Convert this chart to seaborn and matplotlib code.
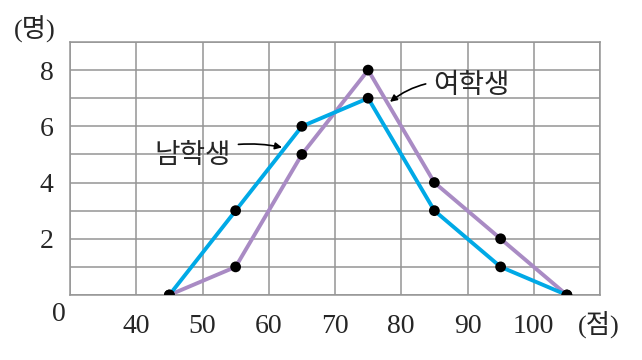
import numpy as np
import pandas as pd
import matplotlib
matplotlib.use('Agg')
import matplotlib.pyplot as plt
import seaborn as sns

# data: frequency polygon of scores
scores = [45, 55, 65, 75, 85, 95, 105]
boys = [0, 3, 6, 7, 3, 1, 0]
girls = [0, 1, 5, 8, 4, 2, 0]

x_ticks = [40, 50, 60, 70, 80, 90, 100]
y_ticks = [2, 4, 6, 8]

blue = '#00a9e6'
purple = '#a98bc4'

sns.set_style('white')
plt.rcParams['font.family'] = ['Liberation Serif', 'Noto Sans CJK KR']
kr = ['Noto Sans CJK KR', 'DejaVu Sans']
unit_font = ['Liberation Serif', 'Noto Sans CJK KR']

df = pd.DataFrame({'score': scores * 2,
                   'count': boys + girls,
                   'group': ['남학생'] * len(scores) + ['여학생'] * len(scores)})

fig = plt.figure(figsize=(6.42, 3.6), dpi=100)
ax = fig.add_axes([70 / 642, 65 / 360, 530 / 642, 253 / 360])

# grid
for xv in range(30, 111, 10):
    ax.axvline(xv, color='#959595', lw=1.1, zorder=0)
for yv in range(0, 10):
    ax.axhline(yv, color='#959595', lw=1.1, zorder=0)

sns.lineplot(data=df, x='score', y='count', hue='group',
             palette={'남학생': blue, '여학생': purple},
             hue_order=['여학생', '남학생'],
             lw=2.8, legend=False, ax=ax, zorder=2)
sns.scatterplot(data=df, x='score', y='count', color='black', s=60,
                edgecolor='none', ax=ax, zorder=3)

ax.set_xlim(30, 110)
ax.set_ylim(0, 9)
ax.set_xticks(x_ticks)
ax.set_xticklabels([str(v) for v in x_ticks], fontsize=20)
ax.set_yticks(y_ticks)
ax.set_yticklabels([str(v) for v in y_ticks], fontsize=20)
ax.tick_params(length=0)
ax.tick_params(axis='x', pad=14)
ax.tick_params(axis='y', pad=12)
ax.set_xlabel('')
ax.set_ylabel('')
for s in ax.spines.values():
    s.set_color('#959595')
    s.set_linewidth(1.1)

ax.text(-0.008, -0.079, '0', transform=ax.transAxes, fontsize=20,
        ha='right', va='center')
ax.text(-0.067, 1.05, '(명)', transform=ax.transAxes, fontsize=19,
        ha='center', va='center', family=unit_font)
ax.text(0.958, -0.118, '(점)', transform=ax.transAxes, fontsize=19,
        ha='left', va='center', family=unit_font)

ax.annotate('남학생', xy=(62.0, 5.25), xytext=(54.3, 4.98),
            fontsize=20, family=kr, ha='right', va='center',
            arrowprops=dict(arrowstyle='-|>', color='black', lw=1.2,
                            mutation_scale=10, shrinkA=3, shrinkB=0,
                            connectionstyle='arc3,rad=-0.15'))
ax.annotate('여학생', xy=(78.3, 6.87), xytext=(84.8, 7.47),
            fontsize=20, family=kr, ha='left', va='center',
            arrowprops=dict(arrowstyle='-|>', color='black', lw=1.2,
                            mutation_scale=10, shrinkA=3, shrinkB=0,
                            connectionstyle='arc3,rad=0.25'))

plt.savefig('out.png', dpi=100)
